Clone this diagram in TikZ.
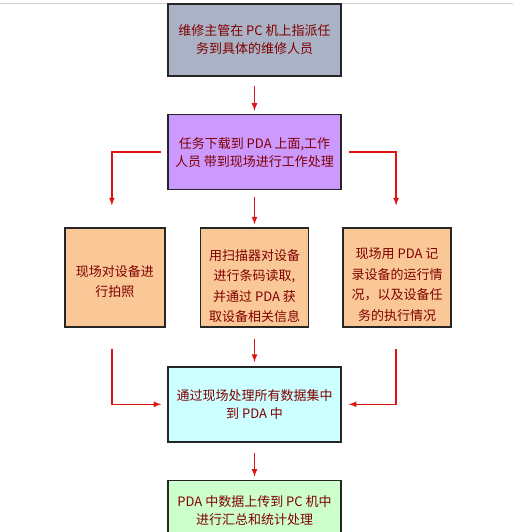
\documentclass[tikz,border=0pt]{standalone}
\usepackage{fontspec}
\newfontfamily\cjk{Noto Sans CJK SC}
\usetikzlibrary{positioning}
\definecolor{textred}{RGB}{128,0,0}
\definecolor{arrowred}{RGB}{220,20,20}
\definecolor{slategray}{RGB}{170,178,198}
\definecolor{violet}{RGB}{204,153,255}
\definecolor{peach}{RGB}{250,200,150}
\definecolor{lightcyan}{RGB}{204,255,255}
\definecolor{lightgreen}{RGB}{204,255,204}

\begin{document}
\begin{tikzpicture}[x=1pt,y=-1pt,node distance=37pt and 34pt,inner sep=0pt]
\tikzstyle{box}=[rectangle, draw=black!85, line width=1.6pt, minimum width=173pt, minimum height=75pt, text=textred, align=center, font=\cjk\fontsize{13}{18}\selectfont]
\tikzstyle{small}=[box, minimum width=108pt, minimum height=99pt]
\tikzstyle{txt}=[text=textred, align=center, font=\cjk\fontsize{13}{20.5}\selectfont]
\tikzstyle{connect}=[-latex, line width=1.6pt, draw=arrowred]
\useasboundingbox (0,0) rectangle (513,532);
\draw[black!18, line width=1pt] (0,3.5) -- (513,3.5);
\node[box,fill=slategray,minimum height=72pt] (plan) at (254.5,40) {维修主管在 PC 机上指派任\\务到具体的维修人员};
\node[box,fill=violet] (download) [below=37pt of plan] {任务下载到 PDA 上面,工作\\人员 带到现场进行工作处理};
\node[small,fill=peach,label={[txt,yshift=-8.5pt]center:{用扫描器对设备\\进行条码读取,\\并通过 PDA 获\\取设备相关信息}}] (scan) [below=of download] {};
\node[small,fill=peach,minimum width=100pt,label={[txt,yshift=-4pt]center:{现场对设备进\\行拍照}}] (photo) [left=of scan] {};
\node[small,fill=peach,label={[txt,yshift=-7pt]center:{现场用 PDA 记\\录设备的运行情\\况，以及设备任\\务的执行情况}}] (record) [right=33pt of scan] {};
\node[box,fill=lightcyan] (collect) [below=38pt of scan] {通过现场处理所有数据集中\\到 PDA 中};
\node[box,fill=lightgreen,minimum height=60pt] (upload) [below=of collect] {PDA 中数据上传到 PC 机中\\进行汇总和统计处理};
\draw[connect,shorten <=9pt,shorten >=3pt] (plan) -- (download);
\draw[connect,shorten <=6pt,shorten >=22pt] (download.west) -| ([xshift=-3pt]photo.north);
\draw[connect,shorten <=7pt,shorten >=22pt] (download.east) -| ([xshift=-1pt]record.north);
\draw[connect,shorten <=7pt,shorten >=3pt] (download) -- (scan);
\draw[connect,shorten <=21pt,shorten >=6pt] ([xshift=-3pt]photo.south) |- (collect.west);
\draw[connect,shorten <=21pt,shorten >=7pt] ([xshift=-1pt]record.south) |- (collect.east);
\draw[connect,shorten <=11pt,shorten >=4pt] (scan) -- (collect);
\draw[connect,shorten <=10pt,shorten >=3pt] (collect) -- (upload);
\end{tikzpicture}
\end{document}
